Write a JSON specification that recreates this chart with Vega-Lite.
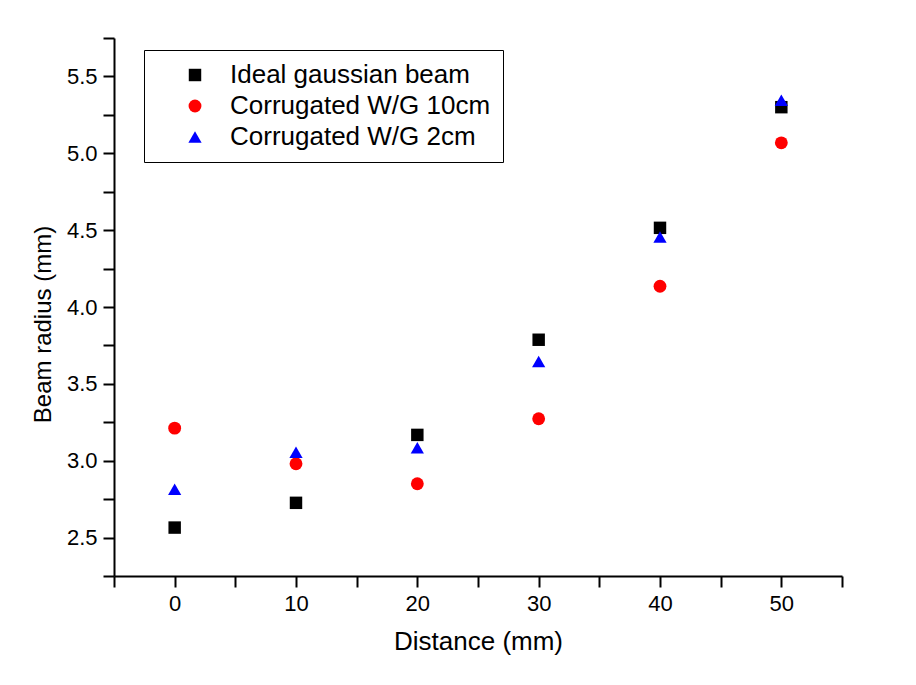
{
  "$schema": "https://vega.github.io/schema/vega-lite/v6.json",
  "width": 728,
  "height": 538,
  "autosize": {"type": "none"},
  "padding": {"left": 114, "top": 38, "right": 74, "bottom": 109},
  "background": "white",
  "config": {
    "view": {"stroke": null},
    "font": "Liberation Sans",
    "axis": {"labelFont": "Liberation Sans", "titleFont": "Liberation Sans", "labelFontSize": 22},
    "legend": {"labelFont": "Liberation Sans"}
  },
  "data": {
    "values": [
      {"distance": 0, "radius": 2.565, "series": "Ideal gaussian beam"},
      {"distance": 10, "radius": 2.726, "series": "Ideal gaussian beam"},
      {"distance": 20, "radius": 3.168, "series": "Ideal gaussian beam"},
      {"distance": 30, "radius": 3.787, "series": "Ideal gaussian beam"},
      {"distance": 40, "radius": 4.515, "series": "Ideal gaussian beam"},
      {"distance": 50, "radius": 5.30, "series": "Ideal gaussian beam"},
      {"distance": 0, "radius": 3.212, "series": "Corrugated W/G 10cm"},
      {"distance": 10, "radius": 2.98, "series": "Corrugated W/G 10cm"},
      {"distance": 20, "radius": 2.85, "series": "Corrugated W/G 10cm"},
      {"distance": 30, "radius": 3.273, "series": "Corrugated W/G 10cm"},
      {"distance": 40, "radius": 4.135, "series": "Corrugated W/G 10cm"},
      {"distance": 50, "radius": 5.068, "series": "Corrugated W/G 10cm"},
      {"distance": 0, "radius": 2.815, "series": "Corrugated W/G 2cm"},
      {"distance": 10, "radius": 3.055, "series": "Corrugated W/G 2cm"},
      {"distance": 20, "radius": 3.085, "series": "Corrugated W/G 2cm"},
      {"distance": 30, "radius": 3.645, "series": "Corrugated W/G 2cm"},
      {"distance": 40, "radius": 4.455, "series": "Corrugated W/G 2cm"},
      {"distance": 50, "radius": 5.345, "series": "Corrugated W/G 2cm"}
    ]
  },
  "mark": {"type": "point", "filled": true, "opacity": 1},
  "encoding": {
    "x": {
      "field": "distance",
      "type": "quantitative",
      "scale": {"domain": [-5, 55], "nice": false, "zero": false},
      "axis": {
        "title": "Distance (mm)",
        "titleFontSize": 26,
        "titleFontWeight": "normal",
        "titleColor": "black",
        "titlePadding": 14,
        "values": [-5, 0, 5, 10, 15, 20, 25, 30, 35, 40, 45, 50, 55],
        "labelExpr": "datum.value % 10 === 0 ? datum.label : ''",
        "labelFontSize": 22,
        "labelColor": "black",
        "labelPadding": 6,
        "labelFlush": false,
        "grid": false,
        "domainColor": "black",
        "domainWidth": 2,
        "tickColor": "black",
        "tickWidth": 2,
        "tickSize": 11,
        "encode": {
          "ticks": {
            "update": {
              "y2": {"signal": "datum.value % 10 === 0 ? 11 : 6"}
            }
          }
        }
      }
    },
    "y": {
      "field": "radius",
      "type": "quantitative",
      "scale": {"domain": [2.25, 5.75], "nice": false, "zero": false},
      "axis": {
        "title": "Beam radius (mm)",
        "titleFontSize": 24,
        "titleFontWeight": "normal",
        "titleColor": "black",
        "titleX": -64,
        "titleY": 286,
        "titleBaseline": "alphabetic",
        "titleAlign": "center",
        "values": [2.25, 2.5, 2.75, 3.0, 3.25, 3.5, 3.75, 4.0, 4.25, 4.5, 4.75, 5.0, 5.25, 5.5, 5.75],
        "format": ".1f",
        "labelExpr": "abs(datum.value * 2 - round(datum.value * 2)) < 0.001 ? datum.label : ''",
        "labelFontSize": 22,
        "labelColor": "black",
        "labelPadding": 6,
        "labelFlush": false,
        "grid": false,
        "domainColor": "black",
        "domainWidth": 2,
        "tickColor": "black",
        "tickWidth": 2,
        "tickSize": 11,
        "encode": {
          "ticks": {
            "update": {
              "x2": {"signal": "abs(datum.value * 2 - round(datum.value * 2)) < 0.001 ? -11 : -6"}
            }
          }
        }
      }
    },
    "color": {
      "field": "series",
      "type": "nominal",
      "scale": {
        "domain": ["Ideal gaussian beam", "Corrugated W/G 10cm", "Corrugated W/G 2cm"],
        "range": ["#000000", "#ff0000", "#0000ff"]
      },
      "legend": {
        "title": null,
        "orient": "none",
        "legendX": 30,
        "legendY": 12,
        "direction": "vertical",
        "strokeColor": "black",
        "fillColor": "white",
        "padding": 12,
        "symbolOffset": 26,
        "labelFontSize": 26,
        "labelColor": "black",
        "labelOffset": 22,
        "labelLimit": 500,
        "rowPadding": 5
      }
    },
    "shape": {
      "field": "series",
      "type": "nominal",
      "scale": {
        "domain": ["Ideal gaussian beam", "Corrugated W/G 10cm", "Corrugated W/G 2cm"],
        "range": ["square", "circle", "triangle-up"]
      },
      "legend": null
    },
    "size": {
      "field": "series",
      "type": "nominal",
      "scale": {
        "domain": ["Ideal gaussian beam", "Corrugated W/G 10cm", "Corrugated W/G 2cm"],
        "range": [155, 175, 260]
      },
      "legend": null
    }
  }
}
